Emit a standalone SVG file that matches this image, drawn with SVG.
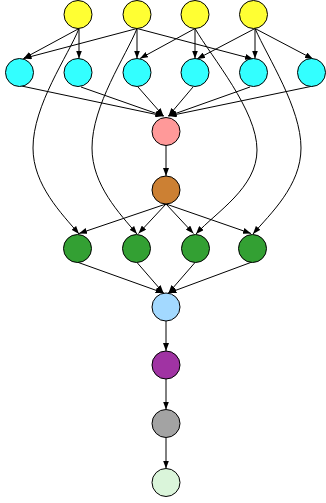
<svg xmlns="http://www.w3.org/2000/svg" width="326" height="503" viewBox="0 0 326 503">
<style>
.n{stroke:#000;stroke-width:1}
.e{fill:none;stroke:#000;stroke-width:1;marker-end:url(#ah)}
</style>
<defs>
<marker id="ah" markerUnits="userSpaceOnUse" markerWidth="8" markerHeight="6" refX="8" refY="3" orient="auto">
<path d="M0,0 L8,3 L0,6 z" fill="#000"/>
</marker>
</defs>
<rect width="326" height="503" fill="#fff"/>
<g id="connectors">
<path class="e" d="M79,28.5 L23.5,58.5"/>
<path class="e" d="M79,28.5 L79,58.5"/>
<path class="e" d="M79,28.5 C68,56 33,105 33,148 C33,185 62,214 79,234"/>
<path class="e" d="M137,28.5 L23.5,58.5"/>
<path class="e" d="M137,28.5 L137,58.5"/>
<path class="e" d="M137,28.5 L253,59"/>
<path class="e" d="M137,28.5 C126,56 92,105 92,148 C92,185 120,214 137,234"/>
<path class="e" d="M195,28.5 L140,58.5"/>
<path class="e" d="M195,28.5 L195,58.5"/>
<path class="e" d="M195,28.5 C212,58 257,110 257,150 C257,188 216,212 196,234"/>
<path class="e" d="M255,28.5 L197,59"/>
<path class="e" d="M255,28.5 L255,58.5"/>
<path class="e" d="M255,28.5 L313,59"/>
<path class="e" d="M255,28.5 C268,58 301,108 301,148 C301,186 270,214 253,234"/>
<path class="e" d="M21.5,86 L163.5,116"/>
<path class="e" d="M81,87 L163.5,116"/>
<path class="e" d="M138,87 L163.5,116"/>
<path class="e" d="M193,87 L168.5,116"/>
<path class="e" d="M250,87 L168.5,116"/>
<path class="e" d="M313,86 L168.5,116"/>
<path class="e" d="M166,145.5 L166,176"/>
<path class="e" d="M166,204 L79,233.5"/>
<path class="e" d="M166,204 L138.5,233.5"/>
<path class="e" d="M166,204 L193.5,233.5"/>
<path class="e" d="M166,204 L251,233.5"/>
<path class="e" d="M77,262 L163.5,293"/>
<path class="e" d="M137,262.5 L163.5,293"/>
<path class="e" d="M195,262.5 L168.5,293"/>
<path class="e" d="M252,262 L168.5,293"/>
<path class="e" d="M166,321 L166,351"/>
<path class="e" d="M166,379 L166,409.5"/>
<path class="e" d="M166,437.5 L166,468.5"/>
</g>
<g id="y1"><circle class="n" cx="78" cy="14.5" r="14" fill="#ffff33"/></g>
<g id="y2"><circle class="n" cx="137" cy="14.5" r="14" fill="#ffff33"/></g>
<g id="y3"><circle class="n" cx="195" cy="14.5" r="14" fill="#ffff33"/></g>
<g id="y4"><circle class="n" cx="253.5" cy="14.5" r="14" fill="#ffff33"/></g>
<g id="c1"><circle class="n" cx="19.5" cy="72.5" r="14" fill="#33ffff"/></g>
<g id="c2"><circle class="n" cx="78" cy="72.5" r="14" fill="#33ffff"/></g>
<g id="c3"><circle class="n" cx="137" cy="72.5" r="14" fill="#33ffff"/></g>
<g id="c4"><circle class="n" cx="195" cy="72.5" r="14" fill="#33ffff"/></g>
<g id="c5"><circle class="n" cx="253.5" cy="72.5" r="14" fill="#33ffff"/></g>
<g id="c6"><circle class="n" cx="311.5" cy="72.5" r="14" fill="#33ffff"/></g>
<g id="pink"><circle class="n" cx="166" cy="131.5" r="14" fill="#ff9999"/></g>
<g id="orange"><circle class="n" cx="166" cy="190" r="14" fill="#cc8033"/></g>
<g id="g1"><circle class="n" cx="77.5" cy="248.5" r="14" fill="#33a033"/></g>
<g id="g2"><circle class="n" cx="136.5" cy="248.5" r="14" fill="#33a033"/></g>
<g id="g3"><circle class="n" cx="195.5" cy="248.5" r="14" fill="#33a033"/></g>
<g id="g4"><circle class="n" cx="252.5" cy="248.5" r="14" fill="#33a033"/></g>
<g id="lightblue"><circle class="n" cx="166" cy="307" r="14" fill="#a3d9ff"/></g>
<g id="purple"><circle class="n" cx="166" cy="365" r="14" fill="#a033a3"/></g>
<g id="gray"><circle class="n" cx="166" cy="423.5" r="14" fill="#a3a3a3"/></g>
<g id="lightgreen"><circle class="n" cx="166" cy="482.5" r="14" fill="#daf5da"/></g>
</svg>
